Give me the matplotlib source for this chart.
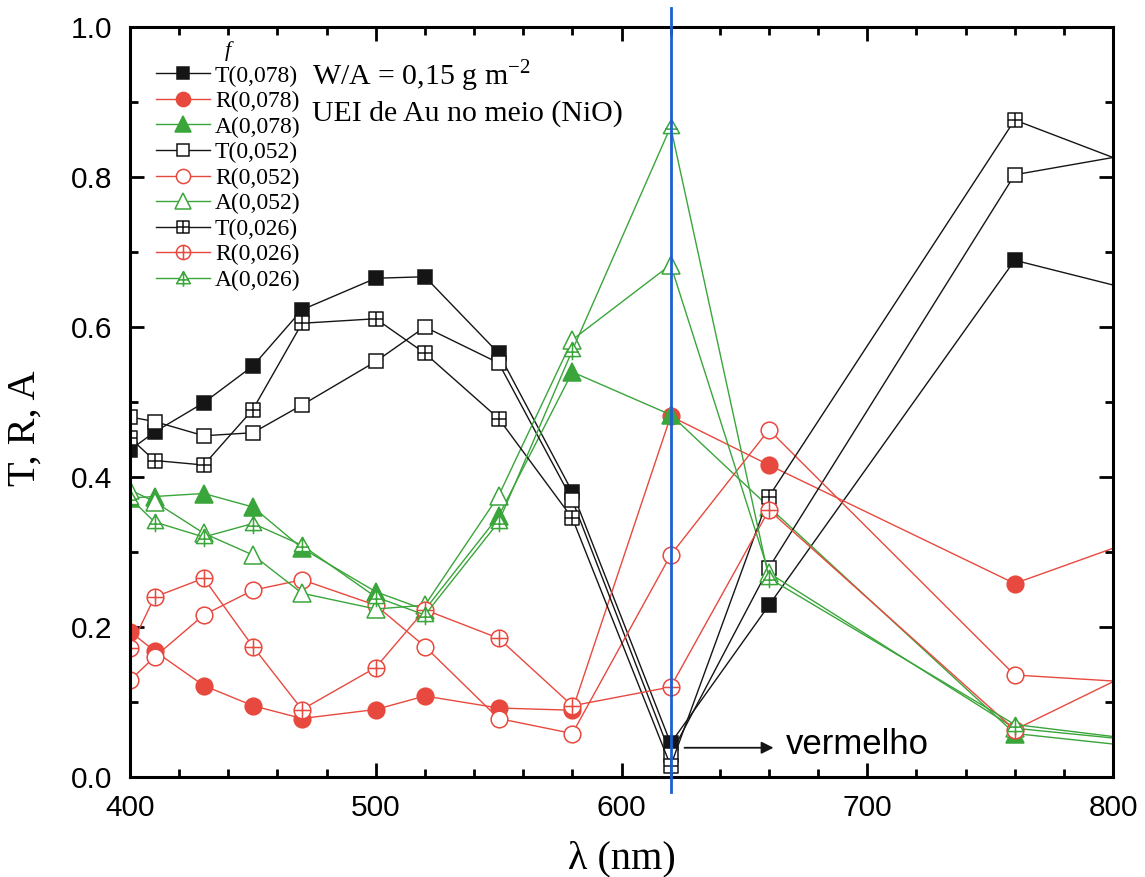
import numpy as np
import matplotlib
matplotlib.use('Agg')
import matplotlib.pyplot as plt
from matplotlib.path import Path
from matplotlib.ticker import MultipleLocator, FormatStrFormatter

# wavelengths (nm); the last point lies on the right border, no marker there
wavelength = [400, 410, 430, 450, 470, 500, 520, 550, 580, 620, 660, 760, 800]

T_078 = [0.436, 0.460, 0.499, 0.548, 0.623, 0.665, 0.667, 0.565, 0.380, 0.045, 0.229, 0.689, 0.656]
R_078 = [0.194, 0.168, 0.122, 0.095, 0.078, 0.090, 0.108, 0.092, 0.089, 0.481, 0.416, 0.258, 0.305]
A_078 = [0.372, 0.374, 0.378, 0.360, 0.305, 0.247, 0.223, 0.348, 0.540, 0.483, 0.360, 0.058, 0.044]
T_052 = [0.480, 0.474, 0.455, 0.459, 0.496, 0.554, 0.600, 0.552, 0.369, 0.030, 0.279, 0.803, 0.826]
R_052 = [0.129, 0.160, 0.216, 0.249, 0.263, 0.229, 0.174, 0.078, 0.058, 0.296, 0.463, 0.136, 0.128]
A_052 = [0.383, 0.367, 0.325, 0.296, 0.245, 0.224, 0.229, 0.375, 0.583, 0.683, 0.272, 0.065, 0.052]
T_026 = [0.452, 0.422, 0.416, 0.490, 0.605, 0.611, 0.565, 0.478, 0.345, 0.015, 0.374, 0.876, 0.826]
R_026 = [0.172, 0.240, 0.265, 0.174, 0.090, 0.146, 0.223, 0.185, 0.095, 0.120, 0.356, 0.063, 0.127]
A_026 = [0.372, 0.340, 0.320, 0.338, 0.309, 0.240, 0.216, 0.340, 0.569, 0.867, 0.265, 0.070, 0.054]

labels = ['T(0,078)', 'R(0,078)', 'A(0,078)', 'T(0,052)', 'R(0,052)', 'A(0,052)',
          'T(0,026)', 'R(0,026)', 'A(0,026)']

BLACK = '#151515'
RED = '#e8493e'
GREEN = '#3aa53a'
BLUE = '#1c5fd4'

SERIF = 'Liberation Serif'
SANS = 'Liberation Sans'


def compound_marker(outline, cross):
    '''outline + cross lines as one marker path'''
    verts = list(outline.vertices)
    codes = list(outline.codes)
    for (a, b) in cross:
        verts += [a, b]
        codes += [Path.MOVETO, Path.LINETO]
    return Path(verts, codes)


square = Path([(-1, -1), (1, -1), (1, 1), (-1, 1), (-1, -1)],
              [Path.MOVETO, Path.LINETO, Path.LINETO, Path.LINETO, Path.CLOSEPOLY])
triangle = Path([(0, 1), (-1, -0.75), (1, -0.75), (0, 1)],
                [Path.MOVETO, Path.LINETO, Path.LINETO, Path.CLOSEPOLY])
circle = Path.unit_circle()

sq_plus = compound_marker(square, [((-1, 0), (1, 0)), ((0, -1), (0, 1))])
circ_plus = compound_marker(circle, [((-1, 0), (1, 0)), ((0, -1), (0, 1))])
tri_plus = compound_marker(triangle, [((-0.75, -0.2), (0.75, -0.2)), ((0, 1), (0, -1.2))])

series = [
    (T_078, BLACK, 's', 'full', 10),
    (R_078, RED, 'o', 'full', 12),
    (A_078, GREEN, '^', 'full', 13),
    (T_052, BLACK, 's', 'none', 10),
    (R_052, RED, 'o', 'none', 12),
    (A_052, GREEN, '^', 'none', 13),
    (T_026, BLACK, sq_plus, 'none', 10),
    (R_026, RED, circ_plus, 'none', 12),
    (A_026, GREEN, tri_plus, 'none', 14),
]

fig = plt.figure(figsize=(11.45, 8.77), dpi=100)
ax = fig.add_axes([130 / 1145, 1 - 777 / 877, 983 / 1145, 750 / 877])

marks = list(range(len(wavelength) - 1))
for (vals, color, mk, fill, ms), lab in zip(series, labels):
    face = color if fill == 'full' else 'white'
    ax.plot(wavelength, vals, color=color, lw=1.0, marker=mk, markersize=ms,
            markerfacecolor=face, markeredgecolor=color, markeredgewidth=1.1,
            markevery=marks, label=lab)

# blue line marking the red wavelength
ax.axvline(620, ymin=-0.02, ymax=1.025, color=BLUE, lw=2.0, clip_on=False, zorder=5)

ax.annotate('', xy=(663, 0.039), xytext=(624.5, 0.039),
            arrowprops=dict(arrowstyle='-|>', color=BLACK, lw=1.3, mutation_scale=18))
ax.text(667, 0.043, 'vermelho', fontsize=25, family=SANS, va='center', ha='left')

ax.text(474, 0.935, 'W/A = 0,15 g m$^{\\mathregular{-2}}$', fontsize=21.5, family=SERIF,
        va='center', ha='left')
ax.text(474, 0.885, 'UEI de Au no meio (NiO)', fontsize=21.5, family=SERIF,
        va='center', ha='left')

ax.set_xlim(400, 800)
ax.set_ylim(0, 1.0)
ax.xaxis.set_major_locator(MultipleLocator(100))
ax.xaxis.set_minor_locator(MultipleLocator(20))
ax.yaxis.set_major_locator(MultipleLocator(0.2))
ax.yaxis.set_minor_locator(MultipleLocator(0.1))
ax.yaxis.set_major_formatter(FormatStrFormatter('%.1f'))
ax.tick_params(which='both', direction='in', top=True, right=True, width=2)
ax.tick_params(which='major', length=10, labelsize=21.5)
ax.tick_params(axis='x', which='major', pad=12)
ax.tick_params(axis='y', which='major', pad=13)
ax.tick_params(which='minor', length=6)
for lab in ax.get_xticklabels() + ax.get_yticklabels():
    lab.set_family(SANS)
for sp in ax.spines.values():
    sp.set_linewidth(2.2)

ax.set_xlabel('λ (nm)', fontsize=29, family=SERIF)
ax.set_ylabel('T, R, A', fontsize=29, family=SERIF)
ax.xaxis.set_label_coords(0.5, -0.085)
ax.yaxis.set_label_coords(-0.088, 0.465)

leg = ax.legend(loc='upper left', bbox_to_anchor=(0.012, 1.0), frameon=False,
                prop={'family': SERIF, 'size': 17}, title='f',
                title_fontproperties={'family': SERIF, 'size': 16, 'style': 'italic'},
                handlelength=2.3, handletextpad=0.2, labelspacing=0.17,
                numpoints=1, markerscale=0.85, borderaxespad=0.2)

fig.savefig('out.png', dpi=100)
